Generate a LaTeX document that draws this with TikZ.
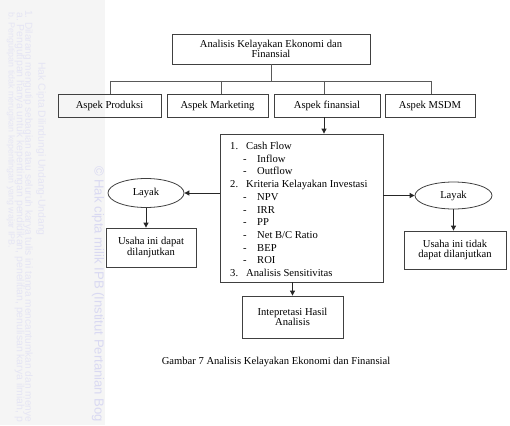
\documentclass[tikz,border=0pt]{standalone}
\usepackage{fontspec}
\setmainfont{Liberation Serif}
\newfontfamily\wmfont{Liberation Sans}
\usetikzlibrary{arrows.meta,shapes.geometric}
\begin{document}
\begin{tikzpicture}[x=1pt,y=-1pt,
  txt/.style={font=\fontsize{10.6}{12.6}\selectfont},
  box/.style={txt,draw=black!75,line width=0.8pt,inner sep=2pt,align=center},
  oval/.style={txt,ellipse,draw=black!75,line width=0.8pt,inner sep=0pt},
  tree/.style={draw=black!65,line width=0.9pt},
  arr/.style={draw=black!85,line width=0.9pt,-{Triangle[length=5pt,width=5pt]}},
  lst/.style={txt,anchor=base west,inner sep=0pt},
  wm/.style={text=black!42!blue!10!white,anchor=west,rotate=-90,inner sep=0pt,font=\wmfont\fontsize{9.3}{11}\selectfont},
  wmbig/.style={wm,text=black!34!blue!15!white,font=\wmfont\fontsize{12.3}{14}\selectfont}
]
\useasboundingbox (0,0) rectangle (510,425);
\fill[black!4] (0,0) rectangle (105,425);
% watermark
\node[wm,font=\wmfont\fontsize{10.4}{12}\selectfont] (wmh) at (41,62) {Hak Cipta Dilindungi Undang-Undang};
\node[wm] (wm1) at (28,10) {\resizebox{412pt}{!}{1. Dilarang mengutip sebagian atau seluruh karya tulis ini tanpa mencantumkan dan menye}};
\node[wm] (wm2) at (19.5,12) {\resizebox{410pt}{!}{a. Pengutipan hanya untuk kepentingan pendidikan, penelitian, penulisan karya ilmiah, p}};
\node[wm] (wm3) at (11,12) {\resizebox{236pt}{!}{b. Pengutipan tidak merugikan kepentingan yang wajar IPB.}};
\node[wmbig] (wm4) at (98,166) {\resizebox{256pt}{!}{\textcopyright\ Hak cipta milik IPB (Institut Pertanian Bog}};

% top part
\node[box,minimum width=198pt,minimum height=30pt] (top) at (271,49) {Analisis Kelayakan Ekonomi dan\\[-2pt]Finansial};
\node[box,minimum width=103pt,minimum height=23pt] (prod) at (109.5,105.5) {Aspek Produksi};
\node[box,minimum width=101pt,minimum height=23pt] (mkt) at (217.5,105.5) {Aspek Marketing};
\node[box,minimum width=106pt,minimum height=23pt] (fin) at (327,105.5) {Aspek finansial};
\node[box,minimum width=90pt,minimum height=23pt] (msdm) at (430,105.5) {Aspek MSDM};

\coordinate (busL) at (110,81);
\coordinate (busR) at (431,81);
\draw[tree] (busL) -- (busR);
\draw[tree] (top.south) -- (top.south |- busL);
\draw[tree] (busL) -- (busL |- prod.north);
\draw[tree] ([xshift=3.5pt]mkt.north |- busL) -- ([xshift=3.5pt]mkt.north);
\draw[tree] ([xshift=-3pt]fin.north |- busL) -- ([xshift=-3pt]fin.north);
\draw[tree] (busR) -- (busR |- msdm.north);

% big box
\node[draw=black!75,line width=0.8pt,minimum width=163pt,minimum height=148pt,inner sep=0pt] (big) at (301.5,208) {};
\draw[arr] ([xshift=-3pt]fin.south) -- ([xshift=-3pt]fin.south |- big.north);

\node[lst] (n1) at (230,149.5) {1.};
\node[lst] (t1) at (246,149.5) {Cash Flow};
\node[lst] (d1) at (243,162.2) {-};
\node[lst] (t2) at (257,162.2) {Inflow};
\node[lst] (d2) at (243,174.9) {-};
\node[lst] (t3) at (257,174.9) {Outflow};
\node[lst] (n2) at (230,187.6) {2.};
\node[lst] (t4) at (246,187.6) {Kriteria Kelayakan Investasi};
\node[lst] (d3) at (243,200.3) {-};
\node[lst] (t5) at (257,200.3) {NPV};
\node[lst] (d4) at (243,213) {-};
\node[lst] (t6) at (257,213) {IRR};
\node[lst] (d5) at (243,225.7) {-};
\node[lst] (t7) at (257,225.7) {PP};
\node[lst] (d6) at (243,238.4) {-};
\node[lst] (t8) at (257,238.4) {Net B/C Ratio};
\node[lst] (d7) at (243,251.1) {-};
\node[lst] (t9) at (257,251.1) {BEP};
\node[lst] (d8) at (243,263.8) {-};
\node[lst] (t10) at (257,263.8) {ROI};
\node[lst] (n3) at (230,276.5) {3.};
\node[lst] (t11) at (246,276.5) {Analisis Sensitivitas};

% left branch
\node[oval,minimum width=76pt,minimum height=29pt] (layL) at (146,193) {Layak};
\node[box,minimum width=90pt,minimum height=39pt] (usL) at (151,247.5) {Usaha ini dapat\\[-2pt]dilanjutkan};
\draw[arr] (big.west |- layL) -- (layL.east);
\draw[arr] (layL.south) -- (layL.south |- usL.north);

% right branch
\node[oval,minimum width=77pt,minimum height=27pt] (layR) at (453.5,195.5) {Layak};
\node[box,minimum width=102pt,minimum height=38pt] (usR) at (455,250) {Usaha ini tidak\\[-2pt]dapat dilanjutkan};
\draw[arr] (big.east |- layR) -- (layR.west);
\draw[arr] (layR.south) -- (layR.south |- usR.north);

% bottom
\node[box,minimum width=101pt,minimum height=42pt] (interp) at (292.5,317) {Intepretasi Hasil\\[-2pt]Analisis};
\draw[arr] (interp.north |- big.south) -- (interp.north);

\node[txt,inner sep=0pt] (cap) at (276,362) {Gambar 7 Analisis Kelayakan Ekonomi dan Finansial};
\end{tikzpicture}
\end{document}
